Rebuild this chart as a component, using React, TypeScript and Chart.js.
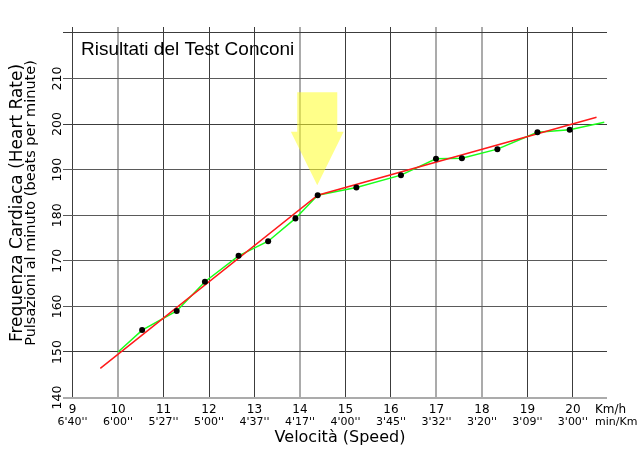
import React, { useEffect, useRef } from 'react';
import { Chart, registerables } from 'chart.js';

Chart.register(...registerables);

// ---- data ----
const speedTicks = [9, 10, 11, 12, 13, 14, 15, 16, 17, 18, 19, 20];
const paceLabels = ["6'40''", "6'00''", "5'27''", "5'00''", "4'37''", "4'17''", "4'00''", "3'45''", "3'32''", "3'20''", "3'09''", "3'00''"];
const hrTicks = [140, 150, 160, 170, 180, 190, 200, 210];
const hrGrid = [140, 150, 160, 170, 180, 190, 200, 210, 220];

const testSpeeds = [10.53, 11.29, 11.91, 12.65, 13.3, 13.9, 14.39, 15.24, 16.22, 16.99, 17.56, 18.34, 19.22, 19.93];
const testHeartRates = [154.8, 159.0, 165.4, 171.1, 174.3, 179.3, 184.4, 186.1, 188.8, 192.4, 192.5, 194.5, 198.2, 198.75];

const curveSpeeds = [10, ...testSpeeds, 20.69];
const curveHeartRates = [150, ...testHeartRates, 200.4];

const trendSpeeds = [9.61, 14.39, 20.52];
const trendHeartRates = [146.4, 184.4, 201.5];

// deflection arrow (data units)
const arrowSpeed = 14.38;
const arrowTopHR = 207.0;
const arrowHeadBaseHR = 198.3;
const arrowTipHR = 186.6;
const arrowShaftHalf = 0.44;
const arrowHeadHalf = 0.58;

const titleText = 'Risultati del Test Conconi';
const xTitle = 'Velocità (Speed)';
const yTitle1 = 'Frequenza Cardiaca (Heart Rate)';
const yTitle2 = 'Pulsazioni al minuto (beats per minute)';
const speedUnit = 'Km/h';
const paceUnit = 'min/Km';

const lightX = [10, 14, 17, 18];
const darkY = [150, 200, 220];

const DV = '"DejaVu Sans", sans-serif';

const arrowPlugin = {
  id: 'arrow',
  beforeDatasetsDraw(chart: any) {
    const { ctx, scales } = chart;
    const x = scales.x, y = scales.y;
    const cx = x.getPixelForValue(arrowSpeed);
    const sl = x.getPixelForValue(arrowSpeed - arrowShaftHalf);
    const sr = x.getPixelForValue(arrowSpeed + arrowShaftHalf);
    const hl = x.getPixelForValue(arrowSpeed - arrowHeadHalf);
    const hr = x.getPixelForValue(arrowSpeed + arrowHeadHalf);
    const top = y.getPixelForValue(arrowTopHR);
    const base = y.getPixelForValue(arrowHeadBaseHR);
    const tip = y.getPixelForValue(arrowTipHR);
    ctx.save();
    ctx.fillStyle = 'rgba(255,255,40,0.55)';
    ctx.beginPath();
    ctx.moveTo(sl, top);
    ctx.lineTo(sr, top);
    ctx.lineTo(sr, base);
    ctx.lineTo(hr, base);
    ctx.lineTo(cx, tip);
    ctx.lineTo(hl, base);
    ctx.lineTo(sl, base);
    ctx.closePath();
    ctx.fill();
    ctx.restore();
  },
};

const textPlugin = {
  id: 'texts',
  afterDraw(chart: any) {
    const { ctx, scales } = chart;
    const x = scales.x, y = scales.y;
    ctx.save();
    ctx.fillStyle = '#000';
    ctx.textAlign = 'left';
    ctx.textBaseline = 'alphabetic';
    ctx.font = '19px "Liberation Sans", Arial, sans-serif';
    ctx.fillText(titleText, 81, 55);

    ctx.textAlign = 'center';
    ctx.textBaseline = 'middle';
    speedTicks.forEach((v, i) => {
      const px = x.getPixelForValue(v);
      ctx.font = '12px ' + DV;
      ctx.fillText(String(v), px, 410);
      ctx.font = '11px ' + DV;
      ctx.fillText(paceLabels[i], px, 422.5);
    });
    ctx.textAlign = 'left';
    ctx.font = '12px ' + DV;
    ctx.fillText(speedUnit, 595, 410);
    ctx.font = '11px ' + DV;
    ctx.fillText(paceUnit, 595, 422.5);

    ctx.textAlign = 'center';
    ctx.font = '16px ' + DV;
    ctx.fillText(xTitle, 340, 438);

    ctx.textBaseline = 'alphabetic';
    ctx.font = '12.5px ' + DV;
    hrTicks.forEach((v) => {
      const py = y.getPixelForValue(v);
      ctx.save();
      ctx.translate(61, py);
      ctx.rotate(-Math.PI / 2);
      ctx.fillText(String(v), 0, 0);
      ctx.restore();
    });

    ctx.save();
    ctx.translate(21.5, 203);
    ctx.rotate(-Math.PI / 2);
    ctx.font = '17px ' + DV;
    ctx.fillText(yTitle1, 0, 0);
    ctx.restore();

    ctx.save();
    ctx.translate(34.5, 203);
    ctx.rotate(-Math.PI / 2);
    ctx.font = '14.5px ' + DV;
    ctx.fillText(yTitle2, 0, 0);
    ctx.restore();

    ctx.restore();
  },
};

export default function App() {
  const ref = useRef<HTMLCanvasElement | null>(null);
  useEffect(() => {
    document.body.style.margin = '0';
    if (!ref.current) return;
    const chart = new Chart(ref.current, {
      type: 'scatter',
      data: {
        datasets: [
          {
            label: 'test',
            data: testSpeeds.map((s, i) => ({ x: s, y: testHeartRates[i] })),
            showLine: false,
            pointRadius: 3,
            pointBackgroundColor: '#000',
            pointBorderColor: '#000',
            pointBorderWidth: 0,
          },
          {
            label: 'trend',
            data: trendSpeeds.map((s, i) => ({ x: s, y: trendHeartRates[i] })),
            showLine: true,
            borderColor: '#ff1a1a',
            borderWidth: 1.5,
            pointRadius: 0,
            tension: 0,
          },
          {
            label: 'curve',
            data: curveSpeeds.map((s, i) => ({ x: s, y: curveHeartRates[i] })),
            showLine: true,
            borderColor: '#1aff1a',
            borderWidth: 1.5,
            pointRadius: 0,
            tension: 0,
          },
        ],
      },
      options: {
        animation: false,
        responsive: false,
        maintainAspectRatio: false,
        events: [],
        layout: { padding: { left: 63, right: 33, top: 27, bottom: 58 } },
        plugins: { legend: { display: false }, tooltip: { enabled: false }, title: { display: false } },
        scales: {
          x: {
            type: 'linear',
            min: 8.79,
            max: 20.75,
            ticks: { display: false, stepSize: 1, includeBounds: false },
            border: { display: false },
            grid: {
              drawTicks: false,
              color: (c: any) => (lightX.includes(c.tick?.value) ? '#ababab' : '#3c3c3c'),
              lineWidth: (c: any) => (lightX.includes(c.tick?.value) ? 2 : 1),
            },
            afterFit: (s: any) => { s.height = 0; },
          },
          y: {
            type: 'linear',
            min: 139.9,
            max: 221.3,
            afterBuildTicks: (s: any) => { s.ticks = hrGrid.map((v) => ({ value: v })); },
            ticks: { display: false, stepSize: 10, includeBounds: false },
            border: { display: false },
            grid: {
              drawTicks: false,
              color: (c: any) => (c.tick?.value === 140 ? '#ababab' : darkY.includes(c.tick?.value) ? '#3c3c3c' : '#5a5a5a'),
              lineWidth: (c: any) => (c.tick?.value === 140 ? 2 : 1),
            },
            afterFit: (s: any) => { s.width = 0; },
          },
        },
      },
      plugins: [arrowPlugin, textPlugin],
    });
    return () => chart.destroy();
  }, []);
  return <canvas ref={ref} width={640} height={456} style={{ display: 'block' }} />;
}
